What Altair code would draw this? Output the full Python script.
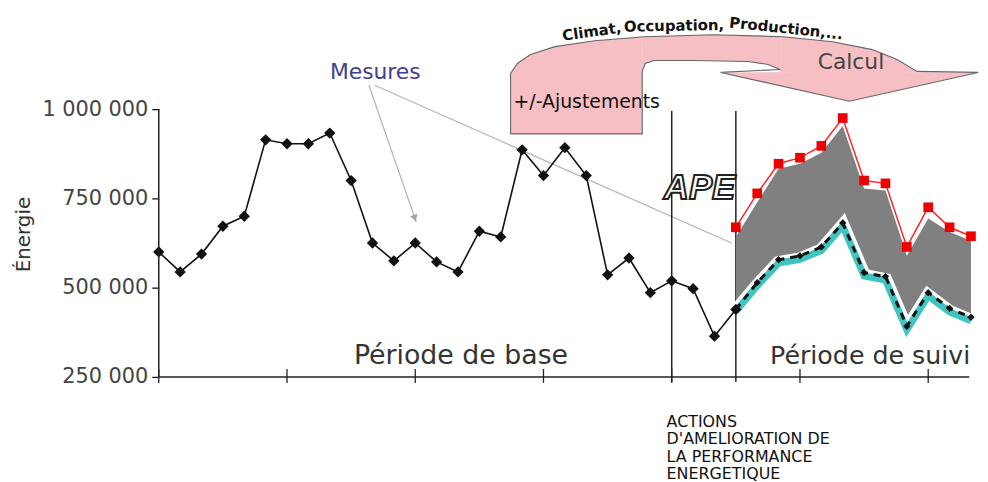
import altair as alt
import pandas as pd

# ---------------- data ----------------
base_period = list(range(28))
base_energy = [600000, 544000, 594000, 672000, 700000, 914000, 903000, 903000, 933000, 800000,
               625000, 575000, 625000, 572000, 544000, 658000, 642000, 886000, 814000, 892000,
               814000, 536000, 583000, 486000, 519000, 497000, 364000, 439000]

follow_period = list(range(27, 39))
follow_measured = [439000, 514000, 578000, 589000, 614000, 681000, 542000, 531000, 392000, 486000, 442000, 417000]
follow_trend = [434000, 505000, 569000, 579000, 604000, 673000, 533000, 521000, 382000, 477000, 432000, 407000]
follow_adjusted = [669000, 764000, 847000, 864000, 897000, 975000, 800000, 792000, 614000, 725000, 669000, 644000]
follow_band_top = [642000, 739000, 833000, 847000, 878000, 953000, 778000, 772000, 589000, 694000, 656000, 631000]

y_ticks = [250000, 500000, 750000, 1000000]
y_tick_labels = ["250 000", "500 000", "750 000", "1 000 000"]
x_ticks = [0, 6, 12, 18, 24, 30, 36]
action_lines = [24, 27]

# curved "Calcul" arrow (in chart units: period index, energy)
arrow_outline_x = [16.46, 16.46, 16.78, 17.39, 18.54, 20.40, 22.72, 25.96, 29.21, 31.53, 33.38, 34.54, 35.47,
                   38.34, 32.31, 26.29, 29.07, 28.51, 27.58, 25.03, 23.18, 22.76, 22.62, 22.62, 16.46]
arrow_outline_y = [930600, 1100000, 1127800, 1152800, 1175000, 1191700, 1202800, 1208300, 1202800, 1188900,
                   1166700, 1138900, 1105600, 1102800, 1022200, 1102800, 1111100, 1125000, 1133300, 1136100,
                   1136100, 1127800, 1105600, 930600, 930600]

fill_piece = (["a"] * 6) + (["b"] * 8) + (["c"] * 6) + (["d"] * 3)
fill_x = [16.46, 16.78, 17.39, 18.54, 20.40, 22.62,
          22.62, 22.76, 23.18, 25.03, 25.96, 27.58, 28.51, 29.07,
          29.07, 29.21, 31.53, 33.38, 34.54, 35.47,
          26.29, 32.31, 38.34]
fill_top = [1100000, 1127800, 1152800, 1175000, 1191700, 1202300,
            1202300, 1202800, 1203600, 1206700, 1208300, 1205600, 1204000, 1203000,
            1203000, 1202800, 1188900, 1166700, 1138900, 1105600,
            1102800, 1105000, 1102800]
fill_bottom = [930600] * 6 + [1105600, 1127800, 1136100, 1136100, 1135700, 1133300, 1125000, 1111100] + \
              [1104000] * 6 + [1102800, 1022200, 1102800]

# "Mesures" pointer lines
pointer_seg = ["a", "a", "b", "b"]
pointer_x = [9.83, 12.05, 10.10, 26.8]
pointer_y = [1066700, 683300, 1066700, 625000]

# ---------------- helpers ----------------
xscale = alt.Scale(domain=[0, 38.33], nice=False, zero=False)
yscale = alt.Scale(domain=[250000, 1277778], nice=False, zero=False)
label_expr = " : ".join(f"datum.value == {v} ? '{l}'" for v, l in zip(y_ticks, y_tick_labels)) + " : ''"
yaxis = alt.Axis(values=y_ticks, labelExpr=label_expr, domain=False, grid=False, ticks=True,
                 tickSize=7, tickColor="#111", tickWidth=1.3, labelFont="DejaVu Sans",
                 labelFontSize=21, labelColor="#444", labelPadding=4, title=None)


def X(f="x"):
    return alt.X(f"{f}:Q", scale=xscale, axis=None)


def Y(f="y"):
    return alt.Y(f"{f}:Q", scale=yscale, axis=yaxis, stack=None)


base_df = pd.DataFrame({"x": base_period, "y": base_energy})
follow_df = pd.DataFrame({"x": follow_period, "meas": follow_measured, "trend": follow_trend,
                          "adj": follow_adjusted, "top": follow_band_top})
outline_df = pd.DataFrame({"x": arrow_outline_x, "y": arrow_outline_y, "k": list(range(len(arrow_outline_x)))})
fill_df = pd.DataFrame({"piece": fill_piece, "x": fill_x, "top": fill_top, "bottom": fill_bottom})
pointer_df = pd.DataFrame({"seg": pointer_seg, "x": pointer_x, "y": pointer_y, "k": [0, 1, 0, 1]})

layers = []

# pink arrow
layers.append(alt.Chart(fill_df).mark_area(color="#f6bfc4", opacity=1).encode(
    x=X(), y=Y("top"), y2="bottom:Q", detail="piece:N"))
layers.append(alt.Chart(outline_df).mark_line(color="#666", strokeWidth=1.1).encode(
    x=X(), y=Y(), order="k:Q"))

# pointer lines
layers.append(alt.Chart(pointer_df).mark_line(color="#b5b5b5", strokeWidth=1.2).encode(
    x=X(), y=Y(), detail="seg:N", order="k:Q"))
layers.append(alt.Chart(pd.DataFrame({"x": [11.98], "y": [695000]})).mark_point(
    shape="triangle-down", filled=True, color="#a0a0a0", size=60, opacity=1, angle=341).encode(x=X(), y=Y()))

# action vertical lines
layers.append(alt.Chart(pd.DataFrame({"x": action_lines, "y": [994400] * 2, "y2": [236000] * 2}))
              .mark_rule(color="#222", strokeWidth=1.5).encode(x=X(), y=Y(), y2="y2:Q"))

# gray band
layers.append(alt.Chart(follow_df).mark_area(color="#808080", opacity=1).encode(
    x=X(), y=Y("top"), y2="meas:Q"))

# red adjusted baseline
layers.append(alt.Chart(follow_df).mark_line(color="#ff2626", strokeWidth=1.5).encode(x=X(), y=Y("adj")))
layers.append(alt.Chart(follow_df).mark_square(color="#ee0000", size=95, opacity=1).encode(x=X(), y=Y("adj")))

# teal + dashed measured
layers.append(alt.Chart(follow_df).mark_line(color="white", strokeWidth=14).encode(x=X(), y=Y("trend")))
layers.append(alt.Chart(follow_df).mark_line(color="#40c4bf", strokeWidth=7).encode(x=X(), y=Y("trend")))
layers.append(alt.Chart(follow_df).mark_line(color="#111", strokeWidth=3, strokeDash=[7, 6]).encode(
    x=X(), y=Y("meas")))
layers.append(alt.Chart(follow_df).mark_point(shape="diamond", filled=True, color="#111", size=55,
                                              opacity=1).encode(x=X(), y=Y("meas")))

# base period measured
layers.append(alt.Chart(base_df).mark_line(color="#111", strokeWidth=1.6).encode(x=X(), y=Y()))
layers.append(alt.Chart(base_df).mark_point(shape="diamond", filled=True, color="#111", size=130,
                                            opacity=1).encode(x=X(), y=Y()))

# axes lines and x ticks
layers.append(alt.Chart(pd.DataFrame({"x": [0], "y": [250000], "y2": [1000000]})).mark_rule(
    color="#222", strokeWidth=1.5).encode(x=X(), y=Y(), y2="y2:Q"))
layers.append(alt.Chart(pd.DataFrame({"x": [0], "x2": [37.92], "y": [250000]})).mark_rule(
    color="#222", strokeWidth=1.5).encode(x=X(), x2="x2:Q", y=Y()))
layers.append(alt.Chart(pd.DataFrame({"x": x_ticks, "y": [272200] * len(x_ticks), "y2": [233300] * len(x_ticks)}))
              .mark_rule(color="#222", strokeWidth=1.3).encode(x=X(), y=Y(), y2="y2:Q"))


# texts
def text_layer(xs, ys, texts, **kw):
    df = pd.DataFrame({"x": xs, "y": ys, "t": texts})
    return alt.Chart(df).mark_text(**kw).encode(x=X(), y=Y(), text="t:N")


layers.append(text_layer([14.14], [286100], ["Période de base"], align="center", baseline="alphabetic",
                         font="DejaVu Sans", fontSize=27, color="#333"))
layers.append(text_layer([28.6], [286100], ["Période de suivi"], align="left", baseline="alphabetic",
                         font="DejaVu Sans", fontSize=25.5, color="#333"))
layers.append(text_layer([10.13], [1083300], ["Mesures"], align="center", baseline="alphabetic",
                         font="DejaVu Sans", fontSize=22, color="#3f3f8f"))
layers.append(text_layer([30.83], [1111100], ["Calcul"], align="left", baseline="alphabetic",
                         font="DejaVu Sans", fontSize=22, color="#444"))
layers.append(text_layer([16.6], [1002800], ["+/-Ajustements"], align="left", baseline="alphabetic",
                         font="DejaVu Sans", fontSize=19, color="#111"))
layers.append(text_layer([20.26], [1216700], ["Climat,"], align="center", baseline="middle",
                         font="DejaVu Sans", fontWeight="bold", fontSize=15, color="#111", angle=352))
layers.append(text_layer([24.11], [1233300], ["Occupation,"], align="center", baseline="middle",
                         font="DejaVu Sans", fontWeight="bold", fontSize=15, color="#111", angle=359))
layers.append(text_layer([29.35], [1226000], ["Production,..."], align="center", baseline="middle",
                         font="DejaVu Sans", fontWeight="bold", fontSize=15, color="#111", angle=6))
layers.append(text_layer([25.3], [777800], ["APE"], align="center", baseline="middle", font="Liberation Sans",
                         fontWeight="bold", fontStyle="italic", fontSize=35, fill="white", stroke="#222",
                         strokeWidth=2))
layers.append(text_layer([-6.3], [648600], ["Énergie"], align="center", baseline="middle",
                         font="DejaVu Sans", fontSize=20, color="#333", angle=270))
layers.append(alt.Chart(pd.DataFrame({"x": [23.76], "y": [109700]})).mark_text(
    text=["ACTIONS", "D'AMELIORATION DE", "LA PERFORMANCE", "ENERGETIQUE"], align="left",
    baseline="alphabetic", font="DejaVu Sans", fontSize=16, lineHeight=17.5, color="#111").encode(x=X(), y=Y()))

chart = alt.layer(*layers).properties(
    width=826, height=370,
    padding={"left": 152, "top": 0, "right": 2, "bottom": 104},
    autosize=alt.AutoSizeParams(type="none"),
    background="white",
).configure_view(stroke=None)

chart.save("out.html", embed_options={"renderer": "svg", "actions": False})
